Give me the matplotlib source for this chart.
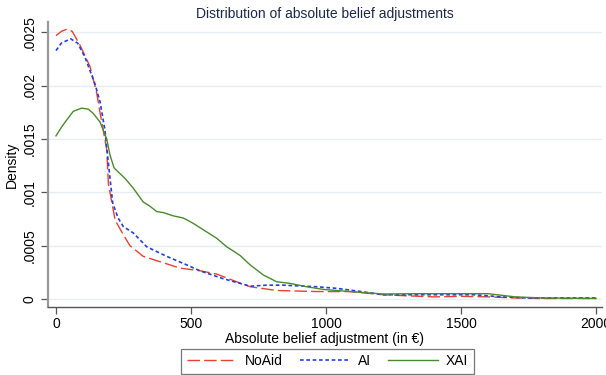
import matplotlib
matplotlib.use("Agg")
import matplotlib.pyplot as plt

plt.rcParams['font.family'] = ['Liberation Sans', 'DejaVu Sans']

# Kernel density estimates of absolute belief adjustments (in EUR)
noaid_x = [0, 20, 40, 60, 89, 126, 151, 163, 188, 194, 219, 250, 274, 323, 385,
           459, 533, 595, 650, 719, 817, 965, 1089, 1212, 1300, 1398, 1500,
           1600, 1700, 1800, 2000]
noaid_y = [0.00247, 0.00251, 0.00253, 0.00251, 0.00238, 0.00218, 0.00193,
           0.00175, 0.00140, 0.00108, 0.00074, 0.00060, 0.00050, 0.00040,
           0.00035, 0.00029, 0.000265, 0.000234, 0.00018, 0.000115, 0.00008,
           0.00007, 0.00007, 0.00004, 0.00003, 0.00002, 0.000025, 0.00002,
           0.00001, 0.000005, 0.000005]

ai_x = [0, 20, 54, 80, 107, 144, 163, 181, 195, 210, 230, 249, 286, 336, 410,
        484, 533, 620, 719, 780, 840, 965, 1040, 1130, 1212, 1350, 1459, 1550,
        1650, 1750, 2000]
ai_y = [0.00233, 0.00240, 0.00244, 0.00240, 0.00227, 0.00202, 0.00185,
        0.00159, 0.00125, 0.00090, 0.00076, 0.00068, 0.00062, 0.00049,
        0.00040, 0.00032, 0.000265, 0.00019, 0.00012, 0.00013, 0.00013,
        0.000115, 0.00010, 0.00007, 0.00004, 0.00004, 0.00004, 0.00004,
        0.00002, 0.00001, 0.00001]

xai_x = [0, 20, 40, 64, 95, 120, 138, 163, 188, 200, 215, 231, 256, 286, 323,
         348, 373, 398, 434, 471, 508, 545, 595, 632, 681, 719, 768, 817, 866,
         928, 990, 1089, 1212, 1336, 1459, 1600, 1700, 1800, 2000]
xai_y = [0.00153, 0.00161, 0.00168, 0.00176, 0.00179, 0.00178, 0.00174,
         0.00166, 0.00150, 0.00135, 0.00123, 0.00119, 0.00113, 0.00104,
         0.00091, 0.00087, 0.00082, 0.00081, 0.00078, 0.00076, 0.00071,
         0.00065, 0.00057, 0.00049, 0.00041, 0.00032, 0.000225, 0.000162,
         0.000147, 0.000115, 0.00009, 0.00007, 0.000047, 0.00005, 0.00005,
         0.00005, 0.00002, 0.00001, 0.000005]

x_ticks = [0, 500, 1000, 1500, 2000]
x_tick_labels = ["0", "500", "1000", "1500", "2000"]
y_ticks = [0, 0.0005, 0.001, 0.0015, 0.002, 0.0025]
y_tick_labels = ["0", ".0005", ".001", ".0015", ".002", ".0025"]

fig = plt.figure(figsize=(6.06, 3.75), dpi=100)
ax = fig.add_axes([0.0792, 0.1813, 0.9142, 0.7607])

ax.set_xlim(-29.6, 2022)
ax.set_ylim(-0.000075, 0.0026)

for yt in y_ticks:
    ax.axhline(yt, color='#e6eef1', lw=1.0, zorder=0)

ax.plot(noaid_x, noaid_y, color='#e8412f', lw=1.0, ls=(0, (9, 3)), label='NoAid')
ax.plot(ai_x, ai_y, color='#1f3ee6', lw=1.2, ls=(0, (2.2, 1.6)), label='AI')
ax.plot(xai_x, xai_y, color='#4a8a2f', lw=1.0, ls='-', label='XAI')

ax.set_xticks(x_ticks)
ax.set_xticklabels(x_tick_labels, fontsize=10)
ax.set_yticks(y_ticks)
ax.set_yticklabels(y_tick_labels, fontsize=10, rotation=90, va='center')

for s in ['top', 'right']:
    ax.spines[s].set_visible(False)
ax.spines['left'].set_color('#9a9a9a')
ax.spines['left'].set_linewidth(1.6)
ax.spines['bottom'].set_color('#555555')
ax.spines['bottom'].set_linewidth(1.0)
ax.tick_params(axis='y', direction='out', length=5, width=0.9, color='#555555', pad=3)
ax.tick_params(axis='x', direction='out', length=5, width=0.9, color='#555555', pad=2)

ax.set_xlabel('Absolute belief adjustment (in €)', fontsize=10, labelpad=1)
ax.set_ylabel('Density', fontsize=10, labelpad=3)
ax.set_title('Distribution of absolute belief adjustments', fontsize=10,
             color='#1c2848', pad=3)

leg = fig.legend(loc='center', bbox_to_anchor=(0.5405, 0.037), ncol=3,
                 fontsize=10, frameon=True, fancybox=False, handlelength=3.6,
                 columnspacing=1.2, borderpad=0.4, handletextpad=0.6)
leg.get_frame().set_edgecolor('#555555')
leg.get_frame().set_linewidth(0.9)

fig.savefig('out.png', dpi=100)
